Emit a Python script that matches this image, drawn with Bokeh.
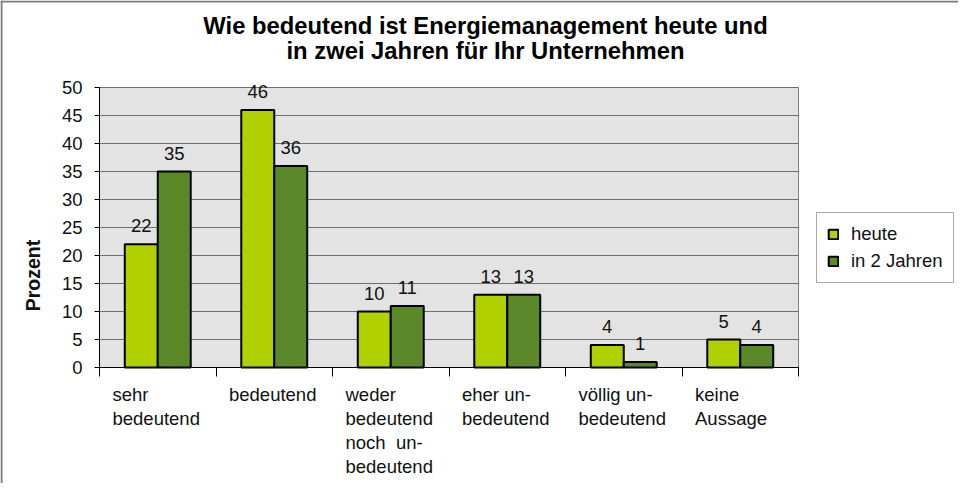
from bokeh.plotting import figure
from bokeh.models import (Range1d, FixedTicker, ColumnDataSource, LabelSet, Label,
                          Legend, LegendItem, LinearAxis, Span)
from bokeh.core.properties import value
from bokeh.embed import file_html
from bokeh.resources import INLINE
import math

categories = ["sehr\nbedeutend", "bedeutend", "weder\nbedeutend\nnoch \u00a0un-\nbedeutend",
              "eher un-\nbedeutend", "völlig un-\nbedeutend", "keine\nAussage"]
heute = [22, 46, 10, 13, 4, 5]
in_2_jahren = [35, 36, 11, 13, 1, 4]
series_names = ["heute", "in 2 Jahren"]
y_ticks = [0, 5, 10, 15, 20, 25, 30, 35, 40, 45, 50]
title_lines = ["Wie bedeutend ist Energiemanagement heute und",
               "in zwei Jahren für Ihr Unternehmen"]

FONT = "Liberation Sans"
C1 = "#B0D000"
C2 = "#5B8828"
BW = 0.283
W, H = 958, 483
# plot area inside the canvas (pixels)
PL, PR, PT, PB = 99, 798, 87, 367

n = len(categories)
ymax = y_ticks[-1]
xs = (PR - PL) / n            # px per category
ys = (PB - PT) / ymax         # px per unit
x_range = Range1d(-PL / xs, n + (W - PR) / xs)
y_range = Range1d(-(H - PB) / ys, ymax + PT / ys)

idx = list(range(n))
x1 = [i + 0.5 - BW / 2 for i in idx]
x2 = [i + 0.5 + BW / 2 for i in idx]

p = figure(width=W, height=H, output_backend="svg", toolbar_location=None,
           x_range=x_range, y_range=y_range, x_axis_type=None, y_axis_type=None,
           min_border=0, title=None)
p.background_fill_color = "white"
p.border_fill_color = "white"
p.outline_line_color = None
p.xgrid.grid_line_color = None
p.ygrid.grid_line_color = None

# plot area background + frame
p.quad(left=[0], right=[n], bottom=[0], top=[ymax], fill_color="#E3E3E3",
       line_color="#808080", line_width=1)
# gridlines
p.segment(x0=[0] * len(y_ticks), x1=[n] * len(y_ticks), y0=y_ticks, y1=y_ticks,
          line_color="#6e6e6e", line_width=1)

# axes placed at the plot area
yaxis = LinearAxis(fixed_location=0, bounds=(0, ymax), ticker=FixedTicker(ticks=y_ticks))
yaxis.major_label_text_font = FONT
yaxis.major_label_text_font_size = "18.5px"
yaxis.major_label_text_color = "#111111"
yaxis.major_tick_out = 5
yaxis.major_tick_in = 0
yaxis.minor_tick_out = 0
yaxis.minor_tick_in = 0
yaxis.major_label_standoff = 12
yaxis.axis_line_color = "black"
yaxis.major_tick_line_color = "black"
p.add_layout(yaxis, "left")

xaxis = LinearAxis(fixed_location=0, bounds=(0, n), ticker=FixedTicker(ticks=list(range(n + 1))))
xaxis.major_label_overrides = {i: "" for i in range(n + 1)}
xaxis.major_tick_out = 9
xaxis.major_tick_in = 0
xaxis.minor_tick_out = 0
xaxis.minor_tick_in = 0
xaxis.axis_line_color = "black"
xaxis.major_tick_line_color = "black"
p.add_layout(xaxis, "below")

src = ColumnDataSource(dict(x1=x1, x2=x2, h=heute, j=in_2_jahren,
                            s1=[str(v) for v in heute], s2=[str(v) for v in in_2_jahren]))
r1 = p.vbar(x="x1", top="h", bottom=0, width=BW, source=src,
            fill_color=C1, line_color="black", line_width=2)
r2 = p.vbar(x="x2", top="j", bottom=0, width=BW, source=src,
            fill_color=C2, line_color="black", line_width=2)

for xcol, ycol, tcol in [("x1", "h", "s1"), ("x2", "j", "s2")]:
    p.add_layout(LabelSet(x=xcol, y=ycol, text=tcol, source=src, y_offset=12,
                          text_align="center", text_baseline="alphabetic",
                          text_font=value(FONT), text_font_size=value("18.5px"),
                          text_color="#111111"))

# category labels (left aligned, multi-line)
cat_src = ColumnDataSource(dict(x=idx, t=categories))
p.add_layout(LabelSet(x="x", y=H - 383, y_units="screen", text="t", source=cat_src,
                      x_offset=13, text_align="left", text_baseline="top",
                      text_font=value(FONT), text_font_size=value("18.5px"),
                      text_line_height=1.15, text_color="#111111"))

# y axis title
p.add_layout(Label(x=32, y=H - 275, x_units="screen", y_units="screen", text="Prozent",
                   angle=math.pi / 2, text_align="center", text_baseline="middle",
                   text_font=FONT, text_font_size="19.5px", text_font_style="bold",
                   text_color="#111111"))

# chart title
for line, yy in zip(title_lines, [24.5, 49.5]):
    p.add_layout(Label(x=485, y=H - yy, x_units="screen", y_units="screen", text=line,
                       text_align="center", text_baseline="alphabetic",
                       text_font=FONT, text_font_size="23.8px", text_font_style="bold",
                       text_color="black"))

legend = Legend(items=[LegendItem(label=series_names[0], renderers=[r1]),
                       LegendItem(label=series_names[1], renderers=[r2])],
                location=(816, H - 283), label_text_font=FONT, label_text_font_size="18.5px",
                label_text_color="#111111", glyph_width=12, glyph_height=12,
                label_height=21, label_standoff=12, spacing=5, padding=10, margin=0,
                border_line_color="#555555", border_line_width=1,
                background_fill_color="white", background_fill_alpha=1)
p.add_layout(legend, "center")

# outer chart border (left and top)
p.add_layout(Span(location=1, location_units="screen", dimension="height",
                  line_color="#7a7a7a", line_width=2))
p.add_layout(Span(location=H - 1, location_units="screen", dimension="width",
                  line_color="#7a7a7a", line_width=2))

open("out.html", "w").write(file_html(p, INLINE))
